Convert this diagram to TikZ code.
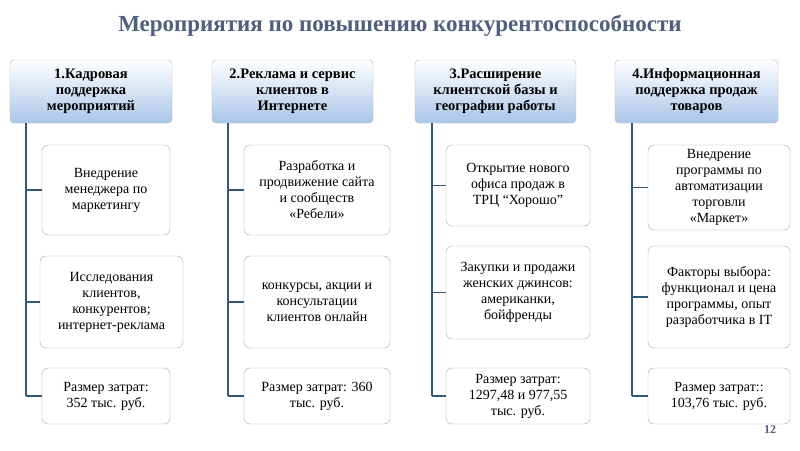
\documentclass[tikz,border=0pt]{standalone}
\usepackage{fontspec}
\setmainfont{Liberation Serif}
\definecolor{trunkc}{RGB}{50,88,118}
\definecolor{hdrb}{RGB}{170,198,232}
\definecolor{titc}{RGB}{80,95,125}
\begin{document}
\begin{tikzpicture}[x=1pt,y=-1pt,
  hdr/.style={draw=gray!60,rounded corners=4pt,top color=white,bottom color=hdrb,align=center,font=\bfseries\fontsize{14.5}{16}\selectfont,inner sep=1pt},
  item/.style={draw=gray!70,rounded corners=6pt,fill=white,align=center,font=\fontsize{14}{16}\selectfont,inner sep=1pt},
  trunk/.style={draw=trunkc,line width=2.5pt},
  branch/.style={draw=trunkc,line width=1.5pt}]
\useasboundingbox (0,0) rectangle (800,450);
\node[font=\bfseries\fontsize{23}{26}\selectfont,text=titc] (title) at (400,26) {Мероприятия по повышению конкурентоспособности};
\newcommand\col[4]{%
 \node[hdr,minimum width=#3pt-#2pt,minimum height=63pt] (#1h) at ({(#2+#3)/2},91.5) {#4};
}
\col{a}{10}{172}{1.Кадровая\\поддержка\\мероприятий}
\col{b}{212}{373}{2.Реклама и сервис\\клиентов в\\Интернете}
\col{c}{415}{576}{3.Расширение\\клиентской базы и\\географии работы}
\col{d}{615}{778}{4.Информационная\\поддержка продаж\\товаров}
% connectors first
\foreach \c/\x in {a/26,b/228,c/432,d/632}{
  \coordinate (\c t) at (\x,123);
  \coordinate (\c e) at (\x,396);
  \draw[trunk] (\c t) -- (\c e);
}
% column a
\node[item,minimum width=128pt,minimum height=90pt] (a1) at (106,190) {Внедрение\\менеджера по\\маркетингу};
\node[item,minimum width=143pt,minimum height=92pt] (a2) at (111.5,302) {Исследования\\клиентов,\\конкурентов;\\интернет-реклама};
\node[item,minimum width=128pt,minimum height=56pt] (a3) at (106,396) {Размер затрат:\\352 тыс. руб.};
% column b
\node[item,minimum width=146pt,minimum height=90pt] (b1) at (317,190) {Разработка и\\продвижение сайта\\и сообществ\\«Ребели»};
\node[item,minimum width=146pt,minimum height=92pt] (b2) at (317,302) {конкурсы, акции и\\консультации\\клиентов онлайн};
\node[item,minimum width=146pt,minimum height=56pt] (b3) at (317,396) {Размер затрат: 360\\тыс. руб.};
% column c
\node[item,minimum width=144pt,minimum height=81pt] (c1) at (518,185.5) {Открытие нового\\офиса продаж в\\ТРЦ “Хорошо”};
\node[item,minimum width=144pt,minimum height=93pt] (c2) at (518,292.5) {Закупки и продажи\\женских джинсов:\\американки,\\бойфренды};
\node[item,minimum width=144pt,minimum height=56pt] (c3) at (518,396) {Размер затрат:\\1297,48 и 977,55\\тыс. руб.};
% column d
\node[item,minimum width=142pt,minimum height=85pt] (d1) at (719,187.5) {Внедрение\\программы по\\автоматизации\\торговли\\«Маркет»};
\node[item,minimum width=142pt,minimum height=102pt] (d2) at (719,297) {Факторы выбора:\\функционал и цена\\программы, опыт\\разработчика в IT};
\node[item,minimum width=142pt,minimum height=56pt] (d3) at (719,396) {Размер затрат::\\103,76 тыс. руб.};
\foreach \c in {a,b,c,d}{
  \foreach \i in {1,2,3}{\draw[branch] (\c t |- \c\i.west) -- (\c\i.west);}
}
\node[font=\bfseries\fontsize{12}{12}\selectfont,text=titc] (pg) at (770,430) {12};
\end{tikzpicture}
\end{document}
